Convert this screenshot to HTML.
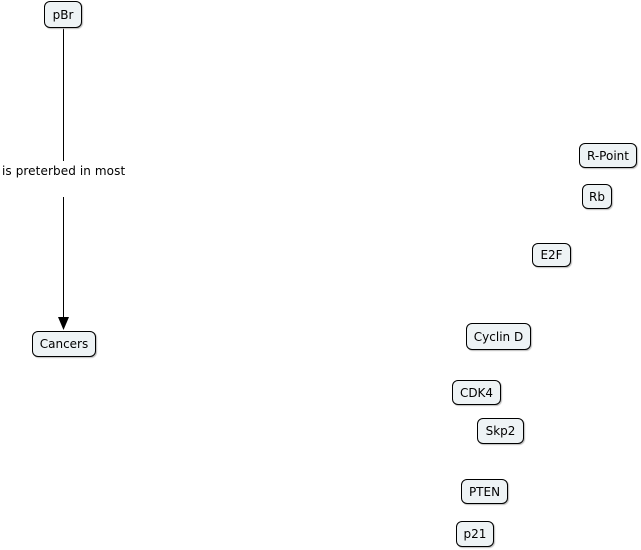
<!DOCTYPE html>
<html><head><style>
body{margin:0;width:641px;height:550px;background:#fff;position:relative;overflow:hidden;font-family:"DejaVu Sans","Liberation Sans",sans-serif;font-size:12px;color:#000}
.n{position:absolute;box-sizing:border-box;border:1px solid #000;border-radius:6px;background:#eef3f5;display:flex;align-items:center;justify-content:center;box-shadow:1px 1px 1px #bbb}
.l{position:absolute;font-size:12px}
</style></head><body>
<svg width="641" height="550" style="position:absolute;left:0;top:0">
<line x1="63.5" y1="28" x2="63.5" y2="161" stroke="#000"/>
<line x1="63.5" y1="197" x2="63.5" y2="318" stroke="#000"/>
<polygon points="58,317 69,317 63.5,330" fill="#000"/>
</svg>
<div class="n" style="left:44px;top:1px;width:38px;height:27px">pBr</div>
<div class="l" style="left:2px;top:164px;letter-spacing:0.1px">is preterbed in most</div>
<div class="n" style="left:32px;top:331px;width:64px;height:26px">Cancers</div>
<div class="n" style="left:579px;top:143px;width:58px;height:25px">R-Point</div>
<div class="n" style="left:582px;top:184px;width:30px;height:25px">Rb</div>
<div class="n" style="left:532px;top:243px;width:39px;height:24px">E2F</div>
<div class="n" style="left:466px;top:323px;width:65px;height:27px">Cyclin D</div>
<div class="n" style="left:452px;top:380px;width:49px;height:25px">CDK4</div>
<div class="n" style="left:477px;top:418px;width:47px;height:26px">Skp2</div>
<div class="n" style="left:461px;top:479px;width:47px;height:25px">PTEN</div>
<div class="n" style="left:456px;top:521px;width:38px;height:26px">p21</div>
</body></html>
